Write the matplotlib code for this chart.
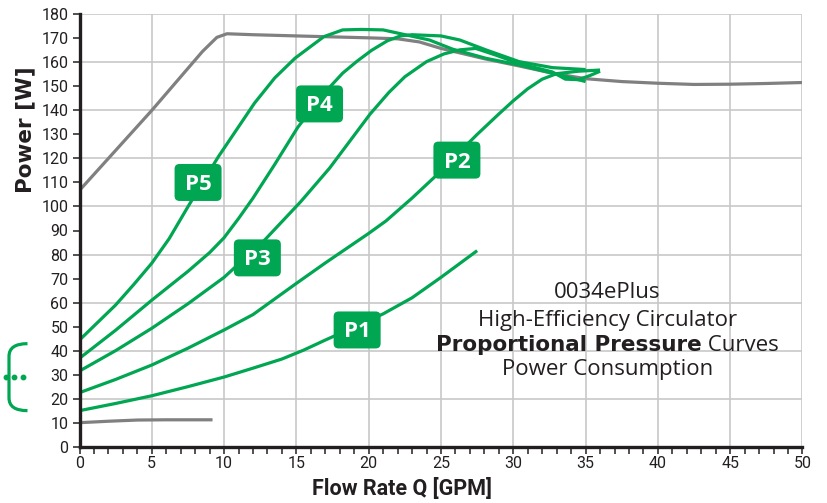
import matplotlib
matplotlib.use('agg')
import matplotlib.pyplot as plt
import matplotlib.transforms as mtransforms
from matplotlib.patches import FancyBboxPatch, PathPatch
from matplotlib.path import Path
from matplotlib.ticker import MultipleLocator

GREEN = '#00a651'
GRAY = '#808080'
DARK = '#231f20'
GRID = '#c8c8c8'

plt.rcParams['font.family'] = ['Roboto', 'DejaVu Sans']

# max / min power envelope (gray)
max_q = [0, 5, 8.5, 9.5, 10.2, 12, 15, 17.5, 20, 22, 23.5, 25, 28, 30.4, 32.7, 35, 37.5, 40, 42.5, 45, 47.5, 50]
max_p = [106.7, 140, 164.5, 170.4, 171.9, 171.5, 171, 170.6, 170.2, 169.8, 168.5, 165.8, 161.5, 158.5, 155.5, 153.2, 152, 151.3, 150.8, 150.9, 151.2, 151.6]
min_q = [0, 2, 4, 6, 9.2]
min_p = [10, 10.6, 11.1, 11.2, 11.2]

# proportional pressure curves
p1_q = [0, 2.5, 5, 7.5, 10, 12, 14, 15.5, 17, 19, 21, 23, 25, 27.5]
p1_p = [15, 18, 21.2, 25, 29, 32.7, 36.5, 40.2, 44.4, 49.8, 55.3, 62, 70.5, 81.6]

p2_q = [0, 2.5, 5, 7.5, 10, 12, 13.5, 15, 17, 20, 21.2, 23, 24.6, 26, 27.5, 29, 30, 31, 32, 33, 34.5, 36]
p2_p = [22.5, 28, 34, 41, 48.6, 55, 61.5, 68, 76.5, 88.8, 94, 103.5, 112.5, 121, 130, 138.5, 144, 149, 153, 155.3, 156.3, 156.8]

p3_q = [0, 2.5, 5, 7.5, 10, 12.8, 15.3, 17.3, 20.1, 21.4, 22.5, 24, 25.2, 26.3, 27.4, 28.8, 30.4, 32.7, 33.6, 34.5, 35.3, 36]
p3_p = [31.5, 40, 49.3, 59.5, 70.5, 86, 102, 116, 138.5, 147.5, 154, 160.3, 163.5, 165.2, 165.8, 163, 159.5, 156, 153, 152.8, 154.5, 156.3]

p4_q = [0, 2.5, 5, 7.5, 9, 10, 11, 12, 13.5, 15.1, 16, 17.2, 18.2, 19.2, 20.2, 21.3, 22.2, 23, 25, 26.3, 28.1, 30.4, 32.7, 35]
p4_p = [36.8, 48.5, 61, 73, 80.8, 87, 95, 103.5, 117.5, 133, 140, 149, 155.5, 160.5, 165, 169, 171, 171.5, 171, 169.3, 165.2, 160.3, 157.8, 157]

p5_q = [0, 2.5, 3.75, 5, 6.2, 7.5, 9.6, 12.1, 13.5, 14.9, 16.9, 18.2, 19.5, 21, 22.6, 24.2, 25.8, 28.1, 30.4, 32.7, 35]
p5_p = [44.4, 59, 67.5, 76.4, 86.6, 99.9, 120.7, 143, 153.5, 161.7, 170.7, 173.5, 173.7, 173.5, 171.4, 169.3, 165.5, 161.7, 158.9, 155.5, 152]

tag_names = ['P1', 'P2', 'P3', 'P4', 'P5']
tag_q = [19.2, 26.1, 12.3, 16.6, 8.2]
tag_p = [48.6, 119.3, 78.6, 142.7, 110]

x_ticks = list(range(0, 51, 5))
y_ticks = list(range(0, 181, 10))
y_grid = list(range(20, 181, 20))

title_lines = ['0034ePlus', 'High-Efficiency Circulator', None, 'Power Consumption']
title_bold = 'Proportional Pressure'
title_rest = ' Curves'

fig = plt.figure(figsize=(8.27, 5.03), dpi=100)
ax = fig.add_axes([79.5 / 827, 1 - 446.7 / 503, 723 / 827, 432.4 / 503])
ax.set_xlim(0, 50)
ax.set_ylim(0, 180)

for q in x_ticks[1:]:
    ax.axvline(q, color=GRID, lw=1.2, zorder=0)
for p in y_grid:
    ax.axhline(p, color=GRID, lw=1.2, zorder=0)

ax.plot(max_q, max_p, color=GRAY, lw=2.3, zorder=2, solid_capstyle='butt', solid_joinstyle='round')
ax.plot(min_q, min_p, color=GRAY, lw=2.3, zorder=2, solid_capstyle='butt')
for q, p in [(p1_q, p1_p), (p2_q, p2_p), (p3_q, p3_p), (p4_q, p4_p), (p5_q, p5_p)]:
    ax.plot(q, p, color=GREEN, lw=2.3, zorder=3, solid_capstyle='butt', solid_joinstyle='round')

# green tags, sized in pixels
ppx = ax.transData.transform((1, 0))[0] - ax.transData.transform((0, 0))[0]
ppy = ax.transData.transform((0, 1))[1] - ax.transData.transform((0, 0))[1]
bw, bh = 47 / ppx, 37 / ppy
for name, q, p in zip(tag_names, tag_q, tag_p):
    box = FancyBboxPatch((q - bw / 2, p - bh / 2), bw, bh,
                         boxstyle='round,pad=0,rounding_size=%f' % (5 / ppx),
                         mutation_aspect=ppx / ppy, fc=GREEN, ec='none', zorder=4)
    ax.add_patch(box)
    ax.text(q, p - 0.8, name, ha='center', va='center', color='white', fontsize=16,
            fontweight='bold', family=['Open Sans', 'DejaVu Sans'], zorder=5)

# spines and ticks
for s in ['top', 'right']:
    ax.spines[s].set_visible(False)
for s in ['left', 'bottom']:
    ax.spines[s].set_linewidth(2.4)
    ax.spines[s].set_color(DARK)
    ax.spines[s].set_zorder(6)
ax.set_xticks(x_ticks)
ax.set_yticks(y_ticks)
ax.xaxis.set_minor_locator(MultipleLocator(1))
ax.tick_params(which='both', direction='out', length=5, width=1.1, color=DARK,
               labelsize=11.5, labelcolor=DARK)
ax.tick_params(axis='x', which='both', pad=2)
ax.tick_params(axis='y', pad=3)

fig.text(25 / 827, 1 - 130 / 503, 'Power [W]', rotation=90, ha='center', va='center',
         fontsize=15.5, fontweight='bold', color=DARK, family=['DejaVu Sans'])
fig.text(402 / 827, 1 - 489 / 503, 'Flow Rate Q [GPM]', ha='center', va='center',
         fontsize=15.5, fontweight='bold', color=DARK)

# title block
tx = 36.5
ty = [64, 52.7, 42.3, 32]
for line, y in zip(title_lines, ty):
    if line:
        ax.text(tx, y, line, ha='center', va='center', fontsize=16, color=DARK,
                family=['Open Sans', 'DejaVu Sans'], zorder=5)
t_b = ax.text(tx, ty[2], title_bold, ha='left', va='center', fontsize=15.5, color=DARK,
              fontweight='bold', family=['DejaVu Sans'], zorder=5)
t_r = ax.text(tx, ty[2], title_rest, ha='left', va='center', fontsize=16, color=DARK,
              family=['Open Sans', 'DejaVu Sans'], zorder=5)
fig.canvas.draw()
r = fig.canvas.get_renderer()
wb = t_b.get_window_extent(r).width
wr = t_r.get_window_extent(r).width
cx, cy = ax.transData.transform((tx, ty[2]))
inv = ax.transData.inverted()
t_b.set_position(inv.transform((cx - (wb + wr) / 2, cy)))
t_r.set_position(inv.transform((cx - (wb + wr) / 2 + wb, cy)))

# bracket around the shut-off values
lo = min(p1_p[0], p2_p[0], p3_p[0], p4_p[0], p5_p[0])
hi = max(p1_p[0], p2_p[0], p3_p[0], p4_p[0], p5_p[0]) - 1.5
trans = mtransforms.blended_transform_factory(ax.transAxes, ax.transData)
xe, xv, rr = -52 / 723, -70.5 / 723, 5.3
verts = [(xe, hi), (xv, hi), (xv, hi - rr), (xv, lo + rr), (xv, lo), (xe, lo)]
codes = [Path.MOVETO, Path.CURVE3, Path.CURVE3, Path.LINETO, Path.CURVE3, Path.CURVE3]
ax.add_patch(PathPatch(Path(verts, codes), transform=trans, fc='none', ec=GREEN,
                       lw=2.3, clip_on=False))
mid = (lo + hi) / 2
ax.plot([-74 / 723, -66 / 723, -57 / 723], [mid] * 3, 'o', color=GREEN, ms=3.2,
        transform=trans, clip_on=False)

fig.savefig('out.png', dpi=100)
